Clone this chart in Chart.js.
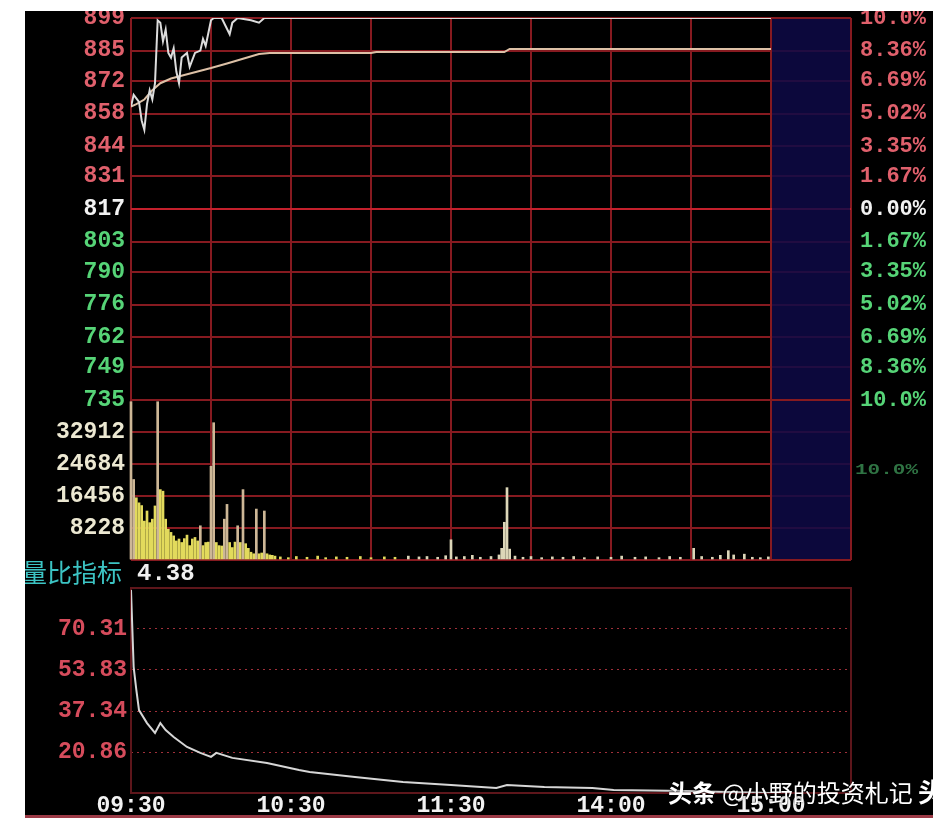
<!DOCTYPE html>
<html>
<head>
<meta charset="utf-8">
<script src="https://cdn.jsdelivr.net/npm/chart.js@4.4.1/dist/chart.umd.min.js"></script>
<style>
body { margin: 0; background: #fff; width: 933px; height: 826px; overflow: hidden; position: relative; }
#board { position: absolute; left: 25px; top: 11px; width: 908px; height: 807px; background: #000; }
#foot { position: absolute; left: 25px; top: 815px; width: 908px; height: 3px; background: #9c3a46; }
canvas { position: absolute; left: 25px; }
#priceChart { top: 11px; }
#volChart { top: 392px; }
#ratioChart { top: 556px; }
</style>
</head>
<body>
<div id="board"></div>
<canvas id="priceChart" width="908" height="412"></canvas>
<canvas id="volChart" width="908" height="176"></canvas>
<canvas id="ratioChart" width="908" height="262"></canvas>
<div id="foot"></div>
<script>
// minute index: 0 = 09:30, 120 = 11:30 / 13:00, 240 = 15:00 (240..270 is the blank after-close block)
var prevClose = 817;
var priceTicks = [735, 749, 762, 776, 790, 803, 817, 831, 844, 858, 872, 885, 899];
var pctLabels = ['10.0%', '8.36%', '6.69%', '5.02%', '3.35%', '1.67%', '0.00%', '1.67%', '3.35%', '5.02%', '6.69%', '8.36%', '10.0%'];
var timeTicks = [0, 60, 120, 180, 240];
var timeLabels = ['09:30', '10:30', '11:30', '14:00', '15:00'];

var priceMin = [0, 1, 3, 4, 5, 6, 7, 8, 9, 10, 11, 12, 13, 14, 15, 16, 17, 18, 19, 21, 22, 24, 26, 27, 28, 30, 31, 34, 37, 38, 40, 45, 48, 50, 240];
var priceVal = [861, 866, 863, 855, 851, 862, 868, 864, 871, 898, 897, 889, 894, 884, 882, 886, 876, 871, 882, 884, 878, 884, 885, 890, 887, 898, 899, 899, 892, 897, 899, 898, 897, 899, 899];

var avgMin = [0, 2, 5, 8, 11, 15, 20, 25, 30, 36, 42, 48, 52, 90, 92, 140, 142, 240];
var avgVal = [861, 862, 864, 868, 871, 873, 874.5, 876, 877.5, 879.5, 881.5, 883.5, 884, 884, 884.4, 884.4, 885.7, 885.7];

var volTicks = [0, 8228, 16456, 24684, 32912, 41140];
var volMin = [0, 1, 2, 3, 4, 5, 6, 7, 8, 9, 10, 11, 12, 13, 14, 15, 16, 17, 18, 19,
  20, 21, 22, 23, 24, 25, 26, 27, 28, 29, 30, 31, 32, 33, 34, 35, 36, 37, 38, 39,
  40, 41, 42, 43, 44, 45, 46, 47, 48, 49, 50, 51, 52, 53, 54,
  56, 59, 62, 66, 70, 73, 77, 81, 86, 90, 95, 99, 104, 108, 111, 115, 118, 120, 122, 125,
  128, 131, 135, 138, 139, 140, 141, 142, 144, 147, 150, 154, 158, 162, 166, 170, 175, 180,
  184, 189, 193, 198, 202, 206, 211, 214, 218, 221, 224, 226, 230, 233, 236, 239];
var volVal = [40700, 20700, 16000, 14700, 14000, 10000, 12600, 9600, 10500, 13900,
  40700, 18100, 17700, 10500, 7900, 7100, 6200, 4900, 5400, 4500,
  5500, 6400, 3700, 5400, 5800, 4900, 8800, 3700, 4500, 4600,
  24100, 35300, 4500, 3700, 3600, 10500, 14300, 4500, 3200, 4600,
  8800, 4500, 18100, 4200, 3000, 2000, 1600, 13100, 1600, 1800, 12600, 1600, 1300, 1200, 1000,
  800, 600, 900, 700, 1000, 600, 800, 700, 900, 600, 800, 700, 1000, 800, 900, 700, 1100, 5200, 800, 900,
  1200, 700, 900, 1300, 3000, 9700, 18600, 2800, 1000, 700, 900, 600, 800, 700, 900, 600, 800, 700,
  1000, 700, 800, 600, 900, 700, 3000, 900, 700, 1200, 2400, 1300, 1500, 700, 600, 800];

var ratioTitle = '量比指标';
var ratioNow = '4.38';
var ratioTicks = [4.38, 20.86, 37.34, 53.83, 70.31, 86.79];
var ratioMin = [0, 1, 2, 3, 6, 9, 11, 13, 16, 21, 26, 30, 32, 38, 51, 63, 67, 84, 102, 120, 137, 141, 155, 173, 181, 208, 240];
var ratioVal = [86.0, 55.0, 45.8, 37.7, 32.5, 28.5, 32.5, 29.7, 26.9, 22.9, 20.5, 18.9, 20.5, 18.5, 16.4, 13.6, 12.8, 10.8, 8.8, 7.6, 6.4, 7.6, 6.8, 6.4, 5.6, 5.2, 4.38];

var watermark = ['头条', '@小野的投资札记'];

// ---- helpers ----
var GRID = '#861a20';
var GRID_HI = '#c4202c';
var LABEL_FONT = { family: 'Liberation Mono', size: 23, weight: 'bold' };

function pts(xs, ys) {
    return xs.map(function (x, i) { return { x: x, y: ys[i] }; });
}
function priceColor(v) {
    if (v > prevClose) return '#e0606c';
    if (v < prevClose) return '#56d477';
    return '#f2f2f2';
}
function minuteAxis(showGrid) {
    return {
        type: 'linear', min: 0, max: 270, offset: false,
        afterBuildTicks: function (a) {
            a.ticks = [];
            for (var m = 0; m <= 270; m += 30) a.ticks.push({ value: m });
        },
        ticks: { display: false },
        grid: { display: showGrid, offset: false, color: GRID, lineWidth: 2, drawTicks: false },
        border: { display: false },
        afterFit: function (a) { a.height = 0; a.paddingLeft = 0; a.paddingRight = 0; }
    };
}
function fixedY(width) {
    return function (a) { a.width = width; a.paddingTop = 0; a.paddingBottom = 0; };
}

// blue block after the close
var afterHours = {
    id: 'afterHours',
    beforeDatasetsDraw: function (chart) {
        var x = chart.scales.x, a = chart.chartArea, ctx = chart.ctx;
        var l = x.getPixelForValue(240) + 1, r = x.getPixelForValue(270) - 1;
        ctx.save();
        ctx.fillStyle = 'rgba(14,10,72,0.84)';
        ctx.fillRect(l, a.top + 1, r - l, a.bottom - a.top - 2);
        ctx.restore();
    }
};

var baseOpts = {
    responsive: false,
    animation: false,
    events: [],
    plugins: { legend: { display: false }, tooltip: { enabled: false } }
};

// ---- price ----
new Chart(document.getElementById('priceChart'), {
    type: 'line',
    data: {
        datasets: [
            { data: pts(priceMin, priceVal), borderColor: '#dcdcdc', borderWidth: 2, pointRadius: 0 },
            { data: pts(avgMin, avgVal), borderColor: '#dcc0a6', borderWidth: 2, pointRadius: 0 }
        ]
    },
    options: Object.assign({}, baseOpts, {
        layout: { padding: { left: 0, right: 0, top: 7, bottom: 23 } },
        scales: {
            x: minuteAxis(true),
            y: {
                min: 735, max: 899, position: 'left',
                afterBuildTicks: function (a) { a.ticks = priceTicks.map(function (v) { return { value: v }; }); },
                afterFit: fixedY(106),
                grid: {
                    lineWidth: 2, drawTicks: false,
                    color: function (c) { return (c.tick.value === prevClose || c.tick.value === 735) ? GRID_HI : GRID; }
                },
                border: { display: false },
                ticks: {
                    padding: 6, font: LABEL_FONT, autoSkip: false,
                    color: function (c) { return priceColor(c.tick.value); },
                    callback: function (v) { return String(v); }
                }
            },
            y2: {
                min: 735, max: 899, position: 'right',
                afterBuildTicks: function (a) { a.ticks = priceTicks.map(function (v) { return { value: v }; }); },
                afterFit: fixedY(82),
                grid: { display: false },
                border: { display: false },
                ticks: {
                    padding: 1, font: { family: 'Liberation Mono', size: 22, weight: 'bold' }, autoSkip: false,
                    color: function (c) { return priceColor(c.tick.value); },
                    callback: function (v, i) { return pctLabels[i]; }
                }
            }
        }
    }),
    plugins: [afterHours]
});

// ---- volume ----
var ghostLabel = {
    id: 'ghostLabel',
    afterDraw: function (chart) {
        var ctx = chart.ctx;
        ctx.save();
        ctx.globalAlpha = 0.75;
        ctx.fillStyle = '#3f9a5a';
        ctx.font = 'bold 21px "Liberation Mono"';
        ctx.translate(830, 78);
        ctx.scale(1, 0.7);
        ctx.textBaseline = 'middle';
        ctx.fillText(pctLabels[0], 0, 0);
        ctx.restore();
    }
};

new Chart(document.getElementById('volChart'), {
    type: 'bar',
    data: {
        datasets: [{
            data: pts(volMin, volVal),
            barThickness: 2,
            clip: 3,
            backgroundColor: function (c) {
                var p = c.raw;
                if (!p) return '#e2da5c';
                if (p.x >= 100) return '#dcd6b8';
                if (p.y > 20000 || (p.x > 25 && p.y > 8000)) return '#cdb796';
                return '#e2da5c';
            }
        }]
    },
    options: Object.assign({}, baseOpts, {
        layout: { padding: { left: 0, right: 82, top: 8, bottom: 8 } },
        scales: {
            x: minuteAxis(true),
            y: {
                min: 0, max: 41140, position: 'left',
                afterBuildTicks: function (a) { a.ticks = volTicks.map(function (v) { return { value: v }; }); },
                afterFit: fixedY(106),
                grid: { color: GRID, lineWidth: 2, drawTicks: false },
                border: { display: false },
                ticks: {
                    padding: 6, font: LABEL_FONT, color: '#ece8d2', autoSkip: false,
                    callback: function (v, i) { return (i === 0 || i === volTicks.length - 1) ? '' : String(v); }
                }
            }
        }
    }),
    plugins: [afterHours, ghostLabel]
});

// ---- volume ratio ----
var ratioDeco = {
    id: 'ratioDeco',
    beforeDatasetsDraw: function (chart) {
        var a = chart.chartArea, ctx = chart.ctx;
        ctx.save();
        ctx.strokeStyle = '#5e161b';
        ctx.lineWidth = 2;
        ctx.strokeRect(a.left, a.top, a.right - a.left, a.bottom - a.top);
        ctx.restore();
    },
    afterDraw: function (chart) {
        var ctx = chart.ctx;
        ctx.save();
        ctx.textBaseline = 'middle';
        ctx.font = '25px "Noto Sans CJK SC"';
        ctx.fillStyle = '#3cc4c4';
        ctx.textAlign = 'right';
        ctx.fillText(ratioTitle, 97, 16);
        ctx.font = 'bold 24px "Liberation Mono"';
        ctx.fillStyle = '#f0f0f0';
        ctx.textAlign = 'left';
        ctx.fillText(ratioNow, 112, 18);

        // watermark
        ctx.textBaseline = 'alphabetic';
        ctx.shadowColor = 'rgba(0,0,0,0.7)';
        ctx.shadowBlur = 3;
        ctx.fillStyle = '#ffffff';
        ctx.font = 'bold 24px "Noto Sans CJK SC"';
        ctx.fillText(watermark[0], 643, 246);
        var w = ctx.measureText(watermark[0]).width;
        ctx.font = '24px "Noto Sans CJK SC"';
        ctx.fillText(watermark[1], 643 + w + 6, 246);
        ctx.font = 'bold 26px "Noto Sans CJK SC"';
        ctx.fillText(watermark[0], 893, 246);
        ctx.restore();
    }
};

new Chart(document.getElementById('ratioChart'), {
    type: 'line',
    data: {
        datasets: [{ data: pts(ratioMin, ratioVal), borderColor: '#d6d6d6', borderWidth: 2, pointRadius: 0 }]
    },
    options: Object.assign({}, baseOpts, {
        layout: { padding: { left: 0, right: 82, top: 32, bottom: 0 } },
        scales: {
            x: {
                type: 'linear', min: 0, max: 270,
                afterBuildTicks: function (a) { a.ticks = timeTicks.map(function (v) { return { value: v }; }); },
                afterFit: function (a) { a.height = 25; a.paddingLeft = 0; a.paddingRight = 0; },
                grid: { display: false, drawTicks: false },
                border: { display: false },
                ticks: {
                    padding: -1, font: LABEL_FONT, color: '#f2f2f2', maxRotation: 0, autoSkip: false,
                    callback: function (v, i) { return timeLabels[i]; }
                }
            },
            y: {
                min: 4.38, max: 86.79, position: 'left',
                afterBuildTicks: function (a) { a.ticks = ratioTicks.map(function (v) { return { value: v }; }); },
                afterFit: fixedY(106),
                grid: {
                    lineWidth: 1, drawTicks: false,
                    color: function (c) { return (c.index === 0 || c.index === ratioTicks.length - 1) ? 'rgba(0,0,0,0)' : '#a0303a'; }
                },
                border: { display: false, dash: [2, 4] },
                ticks: {
                    padding: 4, font: LABEL_FONT, color: '#d64c5c', autoSkip: false,
                    callback: function (v, i) { return (i === 0 || i === ratioTicks.length - 1) ? '' : v.toFixed(2); }
                }
            }
        }
    }),
    plugins: [ratioDeco]
});
</script>
</body>
</html>
